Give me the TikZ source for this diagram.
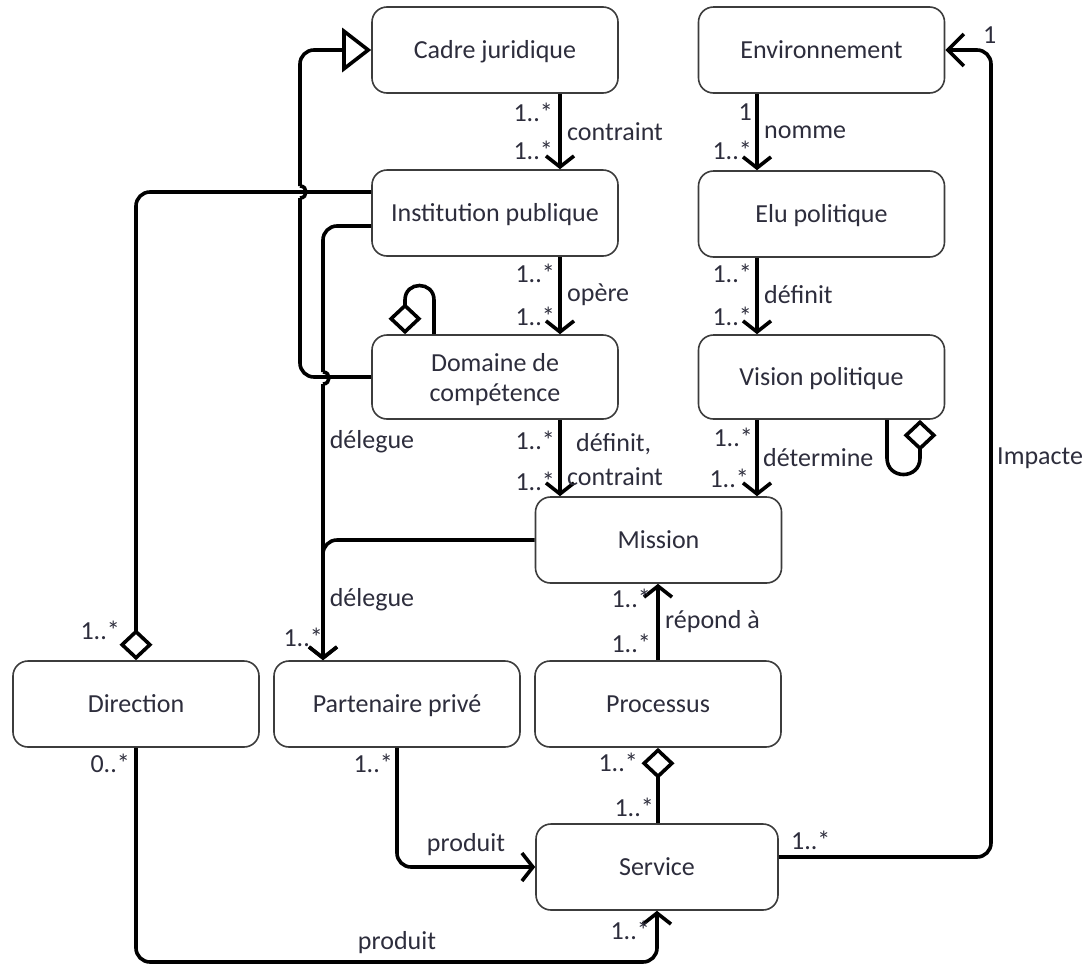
\documentclass[tikz,border=0pt]{standalone}
\usepackage{fontspec}
\setmainfont{Carlito}
\usetikzlibrary{arrows.meta,calc}
\definecolor{txt}{RGB}{45,45,60}
\definecolor{bord}{RGB}{60,60,60}
\tikzset{
 boxbase/.style={draw=bord, line width=1.6pt, rounded corners=15pt, minimum width=246pt, minimum height=86pt, inner sep=0pt, text=txt, font=\fontsize{26}{30}\selectfont, align=center, fill=white},
 box/.style={boxbase, text height=23pt, text depth=6pt},
 conn/.style={draw=black, line width=3.6pt, rounded corners=14pt},
 hopline/.style={draw=black, line width=3.6pt},
 lab/.style={text=txt, font=\fontsize{26}{30}\selectfont, inner sep=0pt},
 nav/.style={-{Straight Barb[length=11pt,width=28pt]}},
 navbig/.style={-{Straight Barb[length=16pt,width=32pt]}},
 agg/.style={{Diamond[open,length=31pt,width=33pt]}-},
 gen/.style={-{Triangle[open,length=29pt,width=44pt]}},
}
\begin{document}
\begin{tikzpicture}[x=1pt,y=-1pt]
\useasboundingbox (0,0) rectangle (1090,967);
% nodes
\node[box] (cadre) at (495,50) {Cadre juridique};
\node[box] (env) at (821.5,50) {Environnement};
\node[box] (inst) at (495,213) {Institution publique};
\node[box] (elu) at (821.5,214) {Elu politique};
\node[boxbase,minimum height=84pt,text depth=-4pt] (dom) at (495,377) {Domaine de\\compétence};
\node[box,minimum height=84pt] (vis) at (821.5,377) {Vision politique};
\node[box] (mis) at (658.5,540) {Mission};
\node[box] (dir) at (136,704) {Direction};
\node[box] (par) at (397,704) {Partenaire privé};
\node[box] (pro) at (658,704) {Processus};
\node[box,minimum width=242pt] (ser) at (657,867) {Service};
% helper coordinates
\coordinate (cA) at (560,0);
\coordinate (cB) at (757,0);
\coordinate (cP) at (323,0);
\coordinate (cR) at (991,0);
\coordinate (bot) at (0,962);
\coordinate (h1a) at (323,372);
\coordinate (h1b) at (323,384);
\coordinate (h2a) at (300,198);
\coordinate (h2b) at (300,186);
\coordinate (d1) at (405,300);
\coordinate (d2) at (434,300);
\coordinate (v1) at (920,458);
\coordinate (v2) at (887,458);
% vertical associations
\draw[conn,nav] (cadre.south -| cA) -- (inst.north -| cA);
\draw[conn,nav] (inst.south -| cA) -- (dom.north -| cA);
\draw[conn,nav] (dom.south -| cA) -- (mis.north -| cA);
\draw[conn,nav] (env.south -| cB) -- (elu.north -| cB);
\draw[conn,nav] (elu.south -| cB) -- (vis.north -| cB);
\draw[conn,nav] (vis.south -| cB) -- (mis.north -| cB);
\draw[conn,nav] (pro.north) -- (mis.south -| pro.north);
\draw[conn,agg] (pro.south) -- (ser.north -| pro.south);
\draw[conn,nav] (par.south) |- (ser.west);
\draw[conn,nav] (dir.south) -- (dir.south |- bot) -| (ser.south);
\draw[conn,nav] (mis.west) -| (par.north -| cP);
% Institution -> Partenaire (with hop)
\draw[conn] ([yshift=-13pt]inst.west) -| (h1a);
\draw[hopline] (h1a) .. controls (331,372) and (331,384) .. (h1b);
\draw[conn,nav] (h1b) -- (par.north -| cP);
% generalisation Domaine -> Cadre (with hop)
\draw[conn] (dom.west) -| (h2a);
\draw[hopline] (h2a) .. controls (308,198) and (308,186) .. (h2b);
\draw[conn,gen] (h2b) |- (cadre.west);
% aggregation Direction - Institution
\draw[conn,agg] (dir.north) |- ([yshift=21pt]inst.west);
% Service -> Environnement
\draw[conn,navbig] ([yshift=10pt]ser.east) -| (cR |- env.east) -- (env.east);
% self loops
\draw[hopline,agg] (dom.north -| d1) -- (d1) .. controls (405,280.7) and (434,280.7) .. (d2) -- (dom.north -| d2);
\draw[hopline,agg] (vis.south -| v1) -- (v1) .. controls (920,480) and (887,480) .. (v2) -- (vis.south -| v2);
% labels
\node[lab,anchor=east] (m1) at (553,112) {1..*};
\node[lab,anchor=east] (m2) at (553,150) {1..*};
\node[lab,anchor=west] (l1) at (567,132) {contraint};
\node[lab,anchor=east] (m3) at (752,112) {1};
\node[lab,anchor=east] (m4) at (752,150) {1..*};
\node[lab,anchor=west] (l2) at (764,132) {nomme};
\node[lab,anchor=east] (m5) at (555,273) {1..*};
\node[lab,anchor=east] (m6) at (555,316) {1..*};
\node[lab,anchor=west] (l3) at (567,295) {opère};
\node[lab,anchor=east] (m7) at (752,273) {1..*};
\node[lab,anchor=east] (m8) at (752,316) {1..*};
\node[lab,anchor=west] (l4) at (764,295) {définit};
\node[lab,anchor=east] (m9) at (555,440) {1..*};
\node[lab,anchor=east] (m10) at (555,481) {1..*};
\node[lab,anchor=west] (l5) at (576,444) {définit,};
\node[lab,anchor=west] (l6) at (567,477) {contraint};
\node[lab,anchor=east] (m11) at (753,437) {1..*};
\node[lab,anchor=east] (m12) at (749,478) {1..*};
\node[lab,anchor=west] (l7) at (763,458) {détermine};
\node[lab,anchor=east] (m13) at (651,598) {1..*};
\node[lab,anchor=east] (m14) at (651,643) {1..*};
\node[lab,anchor=west] (l8) at (665,622) {répond à};
\node[lab,anchor=east] (m15) at (638,762) {1..*};
\node[lab,anchor=east] (m16) at (654,807) {1..*};
\node[lab,anchor=west] (m17) at (791,840) {1..*};
\node[lab,anchor=west] (l9) at (997,458) {Impacte};
\node[lab,anchor=west] (m18) at (983,35) {1};
\node[lab,anchor=east] (m19) at (120,630) {1..*};
\node[lab,anchor=east] (m20) at (130,763) {0..*};
\node[lab,anchor=east] (m21) at (323,637) {1..*};
\node[lab,anchor=east] (m22) at (393,763) {1..*};
\node[lab] (l10) at (466,845) {produit};
\node[lab] (l11) at (397,943) {produit};
\node[lab,anchor=east] (m23) at (650,930) {1..*};
\node[lab] (l12) at (372,442) {délegue};
\node[lab] (l13) at (372,600) {délegue};
\end{tikzpicture}
\end{document}
